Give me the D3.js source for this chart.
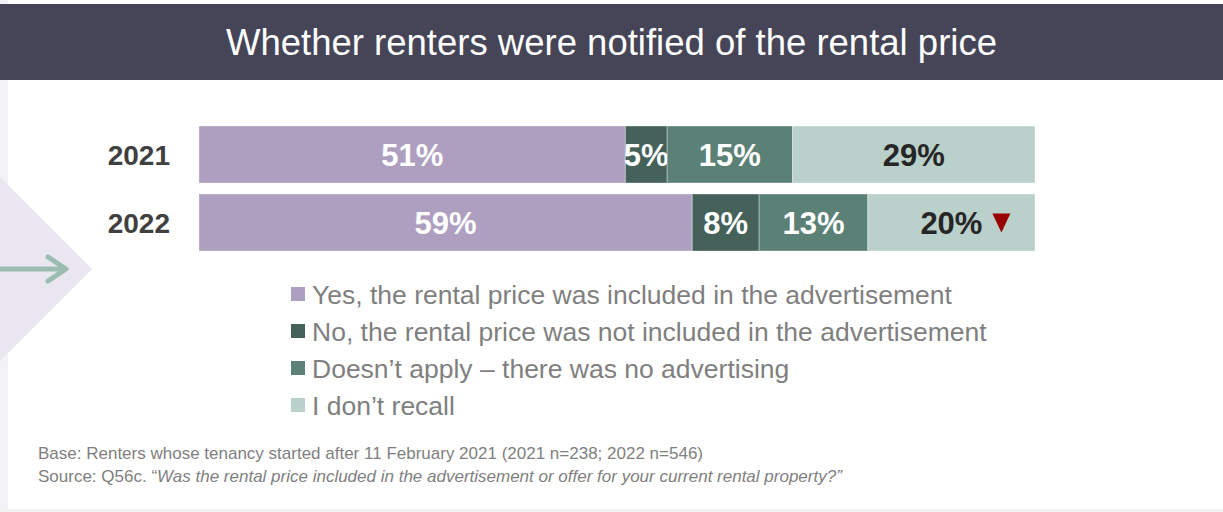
<!DOCTYPE html>
<html>
<head>
<meta charset="utf-8">
<script src="https://cdn.jsdelivr.net/npm/d3@7"></script>
<style>
  html, body { margin: 0; padding: 0; background: #ffffff; }
  svg { display: block; font-family: "Liberation Sans", Arial, sans-serif; }
</style>
</head>
<body>
<svg id="chart" width="1223" height="512"></svg>
<script>
// Survey responses, percent of renters per year
const years = ["2021", "2022"];
const categories = [
  "Yes, the rental price was included in the advertisement",
  "No, the rental price was not included in the advertisement",
  "Doesn\u2019t apply \u2013 there was no advertising",
  "I don\u2019t recall"
];
const values2021 = [51, 5, 15, 29];
const values2022 = [59, 8, 13, 20];
// Significant change vs previous year, per category (only 2022 is compared)
const change2022 = [null, null, null, "down"];

const colors = ["#ae9ec0", "#44615a", "#5b8076", "#bad0ca"];
const labelColors = ["#ffffff", "#ffffff", "#ffffff", "#262626"];

const title = "Whether renters were notified of the rental price";
const baseNote = "Base: Renters whose tenancy started after 11 February 2021 (2021 n=238; 2022 n=546)";
const sourcePrefix = "Source: Q56c. \u201C";
const sourceQuestion = "Was the rental price included in the advertisement or offer for your current rental property?\u201D";

const svg = d3.select("#chart");
const W = 1223, H = 512;

// Page furniture: side strip, bottom rule, pointer shape with arrow
svg.append("rect").attr("x", 0).attr("y", 0).attr("width", 8).attr("height", 510).attr("fill", "#f3f2f7");
svg.append("rect").attr("x", 0).attr("y", 509).attr("width", W).attr("height", 3).attr("fill", "#f2f2f2");
svg.append("path")
  .attr("d", "M0,177 L92,269 L0,361 Z")
  .attr("fill", "#e9e6ef");
svg.append("g")
  .attr("fill", "none").attr("stroke", "#9bbcb0").attr("stroke-width", 5)
  .attr("stroke-linecap", "round").attr("stroke-linejoin", "round")
  .call(g => {
    g.append("line").attr("x1", -2).attr("y1", 269).attr("x2", 64).attr("y2", 269);
    g.append("polyline").attr("points", "48,257 66,269 48,281");
  });

// Title band
svg.append("rect").attr("x", 0).attr("y", 4).attr("width", W).attr("height", 76).attr("fill", "#454557");
svg.append("text")
  .attr("x", W / 2).attr("y", 42)
  .attr("dy", "0.36em")
  .attr("text-anchor", "middle")
  .attr("fill", "#ffffff")
  .attr("font-size", 36.5)
  .text(title);

// Scales
const x = d3.scaleLinear().domain([0, 100]).range([199, 1035]);
const y = d3.scaleBand().domain(years).range([126, 251]).paddingInner(0.162).paddingOuter(0);

const rows = [
  { year: "2021", values: values2021, changes: [null, null, null, null] },
  { year: "2022", values: values2022, changes: change2022 }
];

// Stack each row's segments
rows.forEach(r => {
  let acc = 0;
  r.segments = r.values.map((v, i) => {
    const s = { i, v, x0: acc, x1: acc + v, change: r.changes[i] };
    acc += v;
    return s;
  });
});

const rowG = svg.selectAll("g.row").data(rows).join("g")
  .attr("class", "row")
  .attr("transform", d => `translate(0,${y(d.year)})`);

// Year labels
rowG.append("text")
  .attr("x", 170)
  .attr("y", y.bandwidth() / 2)
  .attr("dy", "0.36em")
  .attr("text-anchor", "end")
  .attr("font-size", 28)
  .attr("font-weight", "bold")
  .attr("fill", "#404040")
  .text(d => d.year);

const seg = rowG.selectAll("g.seg").data(d => d.segments).join("g").attr("class", "seg");

seg.append("rect")
  .attr("x", d => x(d.x0))
  .attr("y", 0)
  .attr("width", d => x(d.x1) - x(d.x0))
  .attr("height", y.bandwidth())
  .attr("fill", d => colors[d.i])
  .attr("stroke", "rgba(255,255,255,0.35)")
  .attr("stroke-width", 1);

seg.append("text")
  .attr("x", d => (x(d.x0) + x(d.x1)) / 2)
  .attr("y", y.bandwidth() / 2)
  .attr("dy", "0.36em")
  .attr("text-anchor", "middle")
  .attr("font-size", 31)
  .attr("font-weight", "bold")
  .attr("fill", d => labelColors[d.i])
  .text(d => d.v + "%");

// Down-arrow marker for significant decreases
seg.filter(d => d.change === "down")
  .append("path")
  .attr("fill", "#990000")
  .attr("d", d => {
    const cx = (x(d.x0) + x(d.x1)) / 2 + 50;
    const cy = y.bandwidth() / 2;
    return `M${cx - 9},${cy - 9} L${cx + 9},${cy - 9} L${cx},${cy + 10} Z`;
  });

// Legend
const legend = svg.append("g").attr("transform", "translate(291,0)");
const legendY = d3.scalePoint().domain(d3.range(categories.length)).range([294, 405]);
const item = legend.selectAll("g").data(categories).join("g")
  .attr("transform", (d, i) => `translate(0,${legendY(i)})`);
item.append("rect").attr("x", 0).attr("y", -7).attr("width", 14).attr("height", 14)
  .attr("fill", (d, i) => colors[i]);
item.append("text")
  .attr("x", 21).attr("y", 0).attr("dy", "0.36em")
  .attr("font-size", 26.5).attr("fill", "#7f7f7f")
  .text(d => d);

// Notes
const notes = svg.append("g").attr("font-size", 17).attr("fill", "#7f7f7f");
notes.append("text").attr("x", 38).attr("y", 459).text(baseNote);
const src = notes.append("text").attr("x", 38).attr("y", 482);
src.append("tspan").text(sourcePrefix);
src.append("tspan").attr("font-style", "italic").text(sourceQuestion);
</script>
</body>
</html>
